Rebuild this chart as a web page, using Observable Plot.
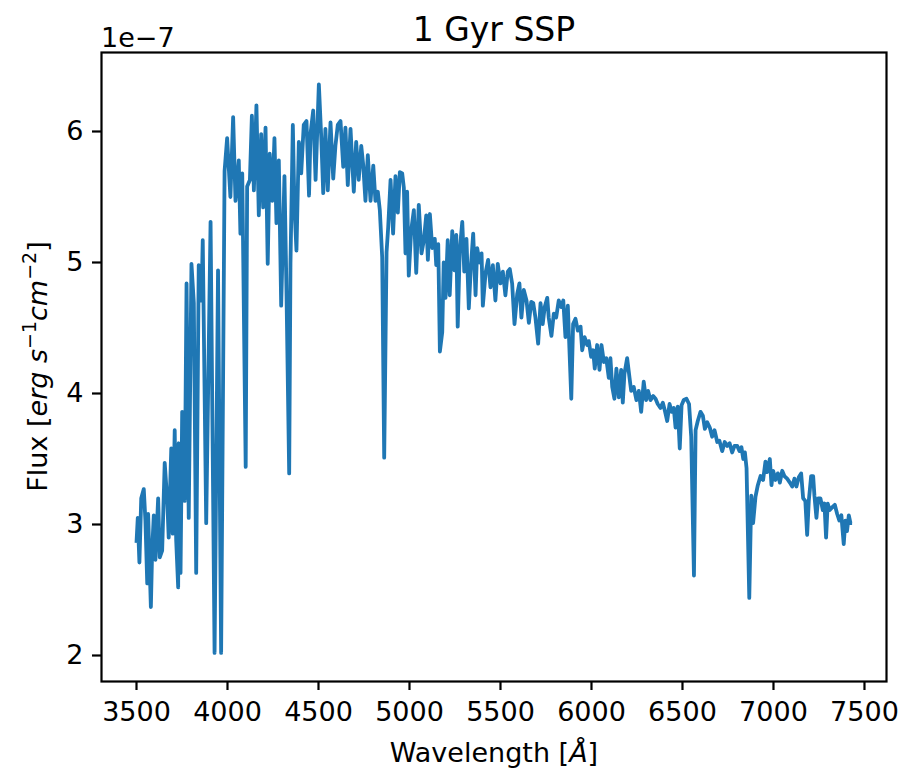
<!DOCTYPE html>
<html><head><meta charset="utf-8">
<script src="https://cdn.jsdelivr.net/npm/d3@7"></script>
<script src="https://cdn.jsdelivr.net/npm/@observablehq/plot@0.6"></script>
<style>body{margin:0;background:#fff}</style>
</head><body><div id="chart"></div>
<script>
// Wavelength in Angstrom
const wavelength = [
3500,3507,3516,3526,3540,3549,3559,3564,3579,3586,3595,3604,3619,3628,3641,3655,3669,3677,3691,3699,
3710,3718,3729,3732,3742,3751,3765,3775,3787,3802,3815,3828,3842,3857,3864,3883,3907,3929,3948,3965,
3984,3998,4016,4031,4044,4062,4071,4081,4100,4108,4123,4134,4145,4159,4172,4185,4196,4209,4221,4232,
4246,4258,4269,4282,4295,4313,4324,4339,4346,4359,4368,4379,4392,4405,4419,4434,4448,4456,4471,4484,
4502,4515,4526,4538,4551,4566,4581,4593,4606,4621,4636,4648,4661,4676,4694,4707,4721,4735,4746,4758,
4771,4786,4801,4813,4826,4837,4850,4861,4874,4883,4896,4910,4923,4936,4947,4960,4969,4978,4987,4996,
5009,5024,5037,5051,5066,5079,5092,5101,5112,5125,5139,5147,5158,5167,5180,5188,5198,5210,5221,5235,
5247,5257,5265,5276,5290,5301,5313,5326,5337,5350,5363,5372,5385,5396,5403,5418,5432,5445,5458,5472,
5485,5500,5513,5527,5540,5551,5564,5577,5592,5604,5615,5628,5643,5656,5669,5680,5692,5707,5720,5732,
5743,5757,5765,5780,5793,5806,5820,5834,5845,5857,5870,5889,5899,5912,5925,5940,5949,5962,5976,5985,
5998,6009,6018,6031,6044,6055,6068,6081,6095,6104,6114,6126,6137,6150,6163,6172,6181,6196,6209,6218,
6232,6247,6260,6273,6287,6300,6311,6324,6339,6352,6364,6379,6392,6403,6416,6429,6440,6452,6462,6474,
6485,6495,6507,6522,6536,6548,6563,6572,6584,6599,6612,6623,6636,6650,6663,6676,6691,6703,6718,6732,
6746,6759,6773,6786,6801,6813,6824,6834,6843,6852,6867,6878,6888,6901,6914,6929,6943,6956,6965,6980,
6989,6998,7011,7024,7035,7048,7060,7075,7090,7103,7115,7126,7139,7152,7163,7175,7185,7194,7207,7218,
7225,7236,7245,7258,7271,7280,7289,7298,7309,7322,7337,7350,7362,7373,7386,7395,7404,7414,7423,7432
];
// Flux in units of 1e-7 erg s^-1 cm^-2
const flux = [
2.86,3.05,2.71,3.20,3.27,3.03,2.55,3.08,2.37,2.80,3.07,2.73,3.20,2.75,2.80,3.47,3.18,2.90,3.58,2.93,
3.72,2.88,2.52,3.62,2.63,3.86,3.18,4.84,3.05,4.99,4.69,2.63,4.98,4.71,5.17,3.01,5.31,2.02,4.94,2.02,
5.70,5.95,5.50,6.11,5.47,5.78,5.22,5.68,3.44,5.58,5.63,6.12,5.55,6.20,5.36,5.98,5.42,6.03,4.99,5.83,
5.47,5.95,5.30,5.78,4.67,5.66,4.79,3.39,4.99,6.05,5.42,5.09,5.92,5.68,6.05,6.08,5.51,5.98,6.16,5.63,
6.36,5.96,5.53,6.02,5.55,6.07,5.64,5.89,6.05,6.08,5.73,6.03,5.59,6.02,5.54,5.92,5.63,5.89,5.74,5.47,
5.82,5.47,5.74,5.47,5.54,5.40,5.04,3.51,5.08,5.27,5.63,5.22,5.66,5.38,5.69,5.68,5.57,5.07,5.54,4.90,
5.24,5.40,4.92,5.44,5.07,5.17,5.36,5.02,5.37,5.11,5.18,4.98,5.14,4.32,4.47,5.00,4.73,5.17,4.75,5.24,
4.94,5.21,4.51,5.09,5.31,4.93,5.18,4.65,4.96,5.22,4.75,5.11,5.00,5.07,4.67,4.92,5.02,4.81,4.98,4.71,
4.99,4.84,4.93,4.75,4.93,4.95,4.84,4.53,4.76,4.84,4.58,4.79,4.71,4.54,4.70,4.69,4.58,4.38,4.69,4.53,
4.66,4.73,4.58,4.44,4.61,4.58,4.71,4.66,4.71,4.43,4.67,3.96,4.53,4.57,4.48,4.51,4.33,4.43,4.37,4.40,
4.28,4.33,4.19,4.37,4.18,4.37,4.24,4.27,4.12,4.27,4.05,3.96,4.19,3.97,4.18,3.93,4.15,4.27,4.12,4.02,
4.05,3.95,4.02,3.86,4.09,3.95,4.02,3.95,3.98,3.96,3.92,3.89,3.93,3.87,3.79,3.92,3.86,3.89,3.74,3.90,
3.58,3.91,3.95,3.96,3.92,3.67,2.61,3.72,3.79,3.86,3.83,3.73,3.78,3.74,3.67,3.72,3.63,3.64,3.56,3.63,
3.60,3.62,3.55,3.60,3.60,3.56,3.59,3.50,3.55,3.43,2.44,3.22,3.01,3.21,3.30,3.37,3.34,3.48,3.40,3.50,
3.30,3.41,3.34,3.39,3.32,3.41,3.37,3.35,3.32,3.29,3.35,3.29,3.36,3.39,3.20,3.18,2.92,3.18,3.37,3.37,
3.22,3.05,3.20,3.20,3.11,3.16,2.90,3.16,3.11,3.13,3.15,3.08,3.03,3.07,2.85,3.03,2.95,3.07,3.01,3.01
];
const xTicks = [3500,4000,4500,5000,5500,6000,6500,7000,7500];
const yTicks = [2,3,4,5,6];
const titleText = "1 Gyr SSP";
const offsetText = "1e\u22127";

const data = wavelength.map((w, i) => ({w, f: flux[i]}));
const FONT = "'DejaVu Sans', sans-serif";

const chart = Plot.plot({
  width: 906, height: 771,
  marginLeft: 101, marginRight: 20, marginTop: 52, marginBottom: 90,
  style: {fontFamily: FONT, fontSize: "27px", color: "#000", background: "#fff", overflow: "visible"},
  x: {domain: [3307.7, 7621]},
  y: {domain: [1.8015, 6.603]},
  marks: [
    Plot.lineY(data, {x: "w", y: "f", stroke: "#1f77b4", strokeWidth: 3.8, strokeLinejoin: "round", strokeLinecap: "butt"}),
    Plot.frame({stroke: "#000", strokeWidth: 2.2}),
    Plot.axisX({ticks: xTicks, tickSize: 9, tickPadding: 11, label: null, strokeWidth: 2.2, tickFormat: d => String(d), fontSize: 27}),
    Plot.axisY({ticks: yTicks, tickSize: 9, tickPadding: 9, label: null, strokeWidth: 2.2, tickFormat: d => String(d), fontSize: 27})
  ]
});
document.getElementById("chart").appendChild(chart);

const svg = d3.select(chart);
svg.append("text").attr("x", 494).attr("y", 41).attr("text-anchor", "middle")
  .attr("font-family", FONT).attr("font-size", 33).attr("fill", "#000").text(titleText);
svg.append("text").attr("x", 101).attr("y", 47).attr("text-anchor", "start")
  .attr("font-family", FONT).attr("font-size", 27).attr("fill", "#000").text(offsetText);

// x label
const xl = svg.append("text").attr("x", 494).attr("y", 762).attr("text-anchor", "middle")
  .attr("font-family", FONT).attr("font-size", 27).attr("fill", "#000");
xl.append("tspan").text("Wavelength [");
xl.append("tspan").attr("font-style", "italic").text("\u00C5");
xl.append("tspan").text("]");

// y label
const yl = svg.append("text").attr("transform", "translate(47,366.5) rotate(-90)")
  .attr("text-anchor", "middle").attr("font-family", FONT).attr("font-size", 27).attr("fill", "#000");
yl.append("tspan").text("Flux [");
yl.append("tspan").attr("font-style", "italic").text("erg s");
yl.append("tspan").attr("font-size", 19).attr("dy", -11).text("\u22121");
yl.append("tspan").attr("font-style", "italic").attr("dy", 11).text("cm");
yl.append("tspan").attr("font-size", 19).attr("dy", -11).text("\u22122");
yl.append("tspan").attr("dy", 11).text("]");
</script>
</body></html>
